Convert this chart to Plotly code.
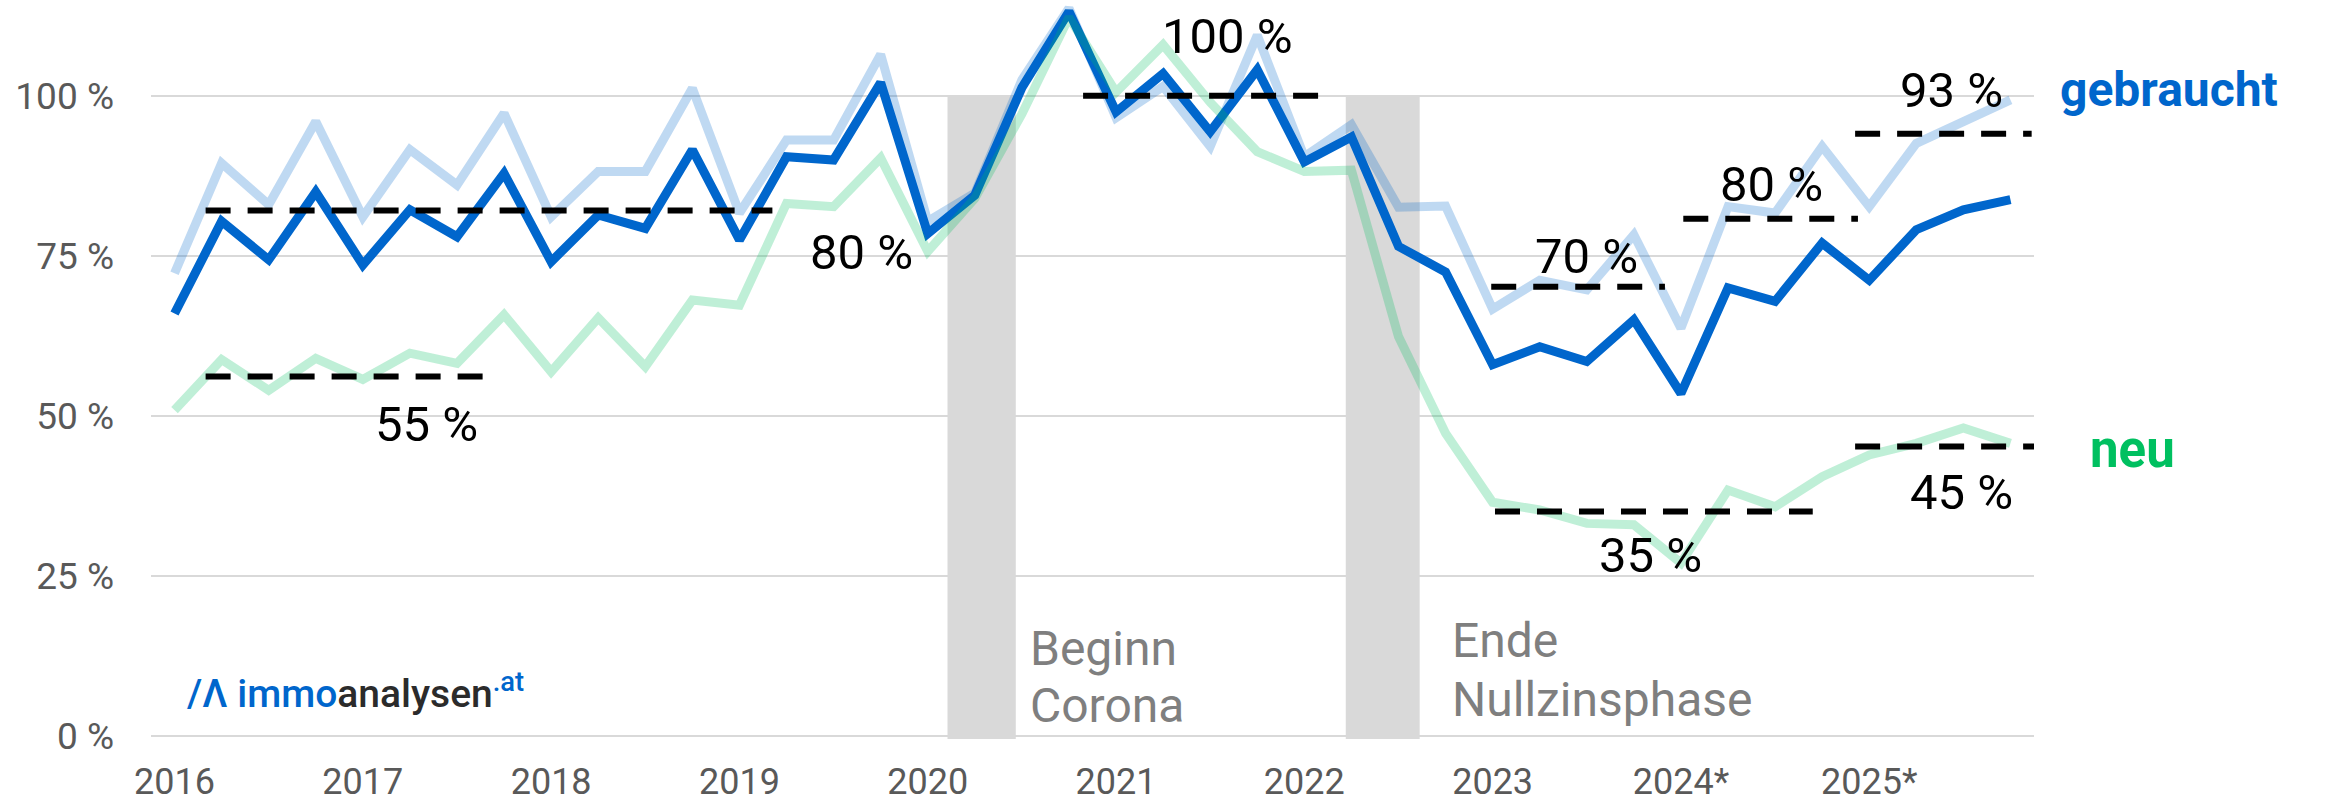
import plotly.graph_objects as go

# ---------------- data ----------------
quarters = list(range(40))  # 2016 Q1 ... 2025 Q4
year_ticks = [0, 4, 8, 12, 16, 20, 24, 28, 32, 36]
year_labels = ["2016", "2017", "2018", "2019", "2020", "2021", "2022", "2023", "2024*", "2025*"]

y_ticks = [0, 25, 50, 75, 100]
y_labels = ["0 %", "25 %", "50 %", "75 %", "100 %"]

gebraucht_hell = [72.3, 89.5, 83.0, 96.0, 81.1, 91.6, 86.1, 97.3, 81.1, 88.2,
                  88.2, 101.2, 81.7, 93.1, 93.1, 106.5, 80.4, 84.8, 102.5, 113.7,
                  96.6, 101.5, 92.1, 109.5, 90.5, 95.5, 82.6, 82.8, 66.7, 71.2,
                  69.7, 78.3, 63.7, 82.7, 81.7, 92.1, 82.7, 92.6, 96.0, 99.4]

gebraucht = [66.0, 80.4, 74.4, 85.0, 73.6, 82.2, 78.0, 87.9, 74.1, 81.4,
             79.3, 91.6, 77.5, 90.5, 90.0, 102.1, 78.5, 84.5, 101.3, 113.2,
             97.5, 103.5, 94.4, 104.1, 89.7, 93.6, 76.5, 72.5, 58.0, 60.8,
             58.5, 65.0, 53.5, 70.0, 67.9, 77.0, 71.2, 79.1, 82.2, 83.8]

neu = [50.9, 58.8, 54.0, 59.0, 55.7, 59.8, 58.2, 65.8, 56.9, 65.3,
       57.7, 68.1, 67.3, 83.2, 82.7, 90.3, 75.7, 84.0, 97.2, 112.3,
       100.6, 108.0, 99.0, 91.3, 88.2, 88.4, 62.4, 47.3, 36.5, 35.3,
       33.2, 33.0, 27.0, 38.4, 35.8, 40.5, 43.9, 45.7, 48.1, 45.7]

# average levels (dashed)  : x-start, x-end, level
avg_start = [0.66, 0.66, 19.3, 27.97, 32.05, 35.7, 28.05, 35.7]
avg_end = [12.7, 6.55, 24.3, 31.66, 35.76, 39.45, 34.8, 39.7]
avg_level = [82.1, 56.15, 100.05, 70.2, 80.8, 94.1, 35.05, 45.2]

# average labels
lbl_text = ["80 %", "55 %", "100 %", "70 %", "80 %", "93 %", "35 %", "45 %"]
lbl_x = [14.6, 5.35, 22.37, 30.0, 33.93, 37.75, 31.36, 37.96]
lbl_y = [75.5, 48.7, 114.1, 74.9, 86.1, 100.8, 28.2, 38.1]

# event bands
band_start = [16.42, 24.88]
band_end = [17.87, 26.45]
band_lines = [["Beginn", "Corona"], ["Ende", "Nullzinsphase"]]
band_text_x = [18.12, 27.1]
band_text_y = [13.6, 14.9]
band_line_gap = [8.9, 9.3]

# ---------------- figure ----------------
FONT = "Roboto"
fig = go.Figure()

fig.add_trace(go.Scatter(x=quarters, y=gebraucht_hell, mode="lines",
                         line=dict(color="rgba(0,102,204,0.25)", width=9),
                         hoverinfo="skip", showlegend=False))
fig.add_trace(go.Scatter(x=quarters, y=gebraucht, mode="lines",
                         line=dict(color="#0066CC", width=9),
                         hoverinfo="skip", showlegend=False))
fig.add_trace(go.Scatter(x=quarters, y=neu, mode="lines",
                         line=dict(color="rgba(0,192,96,0.25)", width=9),
                         hoverinfo="skip", showlegend=False))

shapes = []
for x0, x1 in zip(band_start, band_end):
    shapes.append(dict(type="rect", xref="x", yref="y", x0=x0, x1=x1, y0=-0.5, y1=100,
                       fillcolor="#D9D9D9", line=dict(width=0), layer="between"))
for x0, x1, lv in zip(avg_start, avg_end, avg_level):
    shapes.append(dict(type="line", xref="x", yref="y", x0=x0, x1=x1, y0=lv, y1=lv,
                       line=dict(color="black", width=6, dash="25px,17px"), layer="above"))

annotations = []
for t, x, y in zip(lbl_text, lbl_x, lbl_y):
    top = y > 110
    annotations.append(dict(x=x, y=y, xref="x", yref="y", text=t,
                            showarrow=False, xanchor="center",
                            yanchor="top" if top else "middle",
                            font=dict(family=FONT, size=49, color="black")))

for lines, bx, by, gap in zip(band_lines, band_text_x, band_text_y, band_line_gap):
    for k, ln in enumerate(lines):
        annotations.append(dict(x=bx, y=by - k * gap, xref="x", yref="y", text=ln,
                                showarrow=False, xanchor="left", yanchor="middle",
                                font=dict(family=FONT, size=48, color="#7F7F7F")))

annotations.append(dict(x=1.013, y=101.0, xref="paper", yref="y", text="<b>gebraucht</b>",
                        showarrow=False, xanchor="left", yanchor="middle",
                        font=dict(family=FONT, size=48, color="#0066CC")))
annotations.append(dict(x=1.0287, y=44.8, xref="paper", yref="y", text="<b>neu</b>",
                        showarrow=False, xanchor="left", yanchor="middle",
                        font=dict(family=FONT, size=51, color="#00C060")))

logo = ("<span style='color:#0066CC'>/Λ immo</span>"
        "<span style='color:#2B2B2B'>analysen</span>"
        "<sup><span style='color:#0066CC'>.at</span></sup>")
annotations.append(dict(x=0.22, y=6.9, xref="x", yref="y", text=logo, showarrow=False,
                        xanchor="left", yanchor="middle",
                        font=dict(family=FONT, size=39, color="#0066CC", weight=500)))

fig.update_layout(
    width=2328, height=805,
    margin=dict(l=151, r=294, t=0, b=66, autoexpand=False),
    paper_bgcolor="white", plot_bgcolor="white",
    shapes=shapes, annotations=annotations,
    showlegend=False,
    xaxis=dict(range=[-0.5, 39.5], tickvals=year_ticks, ticktext=year_labels,
               showgrid=False, zeroline=False, showline=False, ticks="",
               ticklabelstandoff=18, automargin=False,
               tickfont=dict(family=FONT, size=36, color="#595959")),
    yaxis=dict(range=[-0.5, 115], tickvals=y_ticks, ticktext=y_labels,
               showgrid=True, gridcolor="#D9D9D9", gridwidth=2,
               zeroline=False, showline=False, ticks="",
               ticklabelstandoff=36, automargin=False,
               tickfont=dict(family=FONT, size=37, color="#595959")),
)

fig.write_html("out.html", config={"displayModeBar": False},
               post_script="document.body.style.margin='0px';document.body.style.overflow='hidden';")
